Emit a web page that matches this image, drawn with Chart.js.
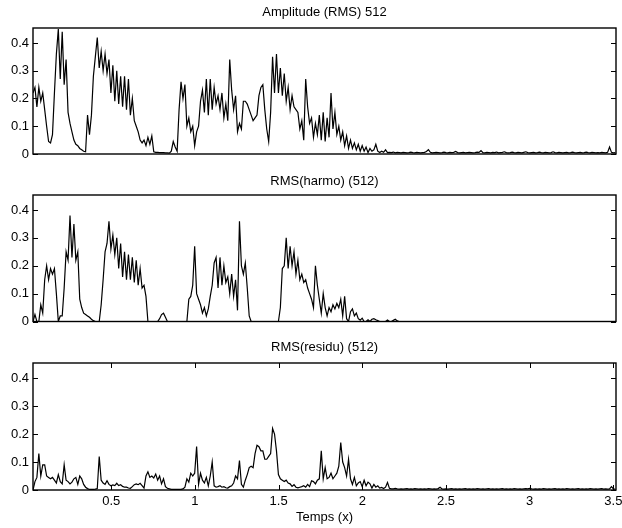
<!DOCTYPE html>
<html>
<head>
<meta charset="utf-8">
<script src="https://cdn.jsdelivr.net/npm/chart.js@4.4.1/dist/chart.umd.min.js"></script>
<style>
  body { margin: 0; background: #fff; }
  #wrap { position: relative; width: 622px; height: 528px; }
  canvas { position: absolute; left: 0; }
</style>
</head>
<body>
<div id="wrap">
  <canvas id="c1" width="622" height="167" style="top:0px"></canvas>
  <canvas id="c2" width="622" height="168" style="top:167px"></canvas>
  <canvas id="c3" width="622" height="193" style="top:335px"></canvas>
</div>
<script>
// frame grid (one RMS value per 512-sample frame)
const T0 = 0.032;
const STEP = 0.01164;
const X_MIN = 0.032;
const X_MAX = 3.516;
const Y_MAX = 0.454;
const xTicks = [0.5, 1, 1.5, 2, 2.5, 3, 3.5];
const yTicks = [0, 0.1, 0.2, 0.3, 0.4];

const rmsAmp = [
  0.22, 0.24, 0.17, 0.24, 0.19, 0.22, 0.16, 0.10, 0.045, 0.04,
  0.07, 0.22, 0.36, 0.45, 0.27, 0.44, 0.25, 0.34, 0.15, 0.11,
  0.08, 0.05, 0.035, 0.03, 0.02, 0.015, 0.01, 0.008, 0.14, 0.07,
  0.14, 0.28, 0.35, 0.42, 0.31, 0.37, 0.30, 0.36, 0.29, 0.34,
  0.22, 0.32, 0.19, 0.30, 0.18, 0.28, 0.17, 0.28, 0.16, 0.27,
  0.14, 0.20, 0.12, 0.10, 0.08, 0.05, 0.04, 0.05, 0.03, 0.06,
  0.035, 0.065, 0.008, 0.006, 0.006, 0.005, 0.005, 0.005, 0.004, 0.004,
  0.003, 0.01, 0.045, 0.025, 0.01, 0.16, 0.26, 0.20, 0.25, 0.10,
  0.13, 0.08, 0.10, 0.03, 0.08, 0.10, 0.19, 0.23, 0.15, 0.27,
  0.14, 0.27, 0.16, 0.24, 0.18, 0.21, 0.16, 0.22, 0.13, 0.18,
  0.12, 0.34, 0.23, 0.16, 0.21, 0.08, 0.11, 0.09, 0.19, 0.19,
  0.18, 0.16, 0.14, 0.12, 0.13, 0.14, 0.21, 0.24, 0.25, 0.16,
  0.09, 0.045, 0.15, 0.35, 0.22, 0.36, 0.22, 0.31, 0.21, 0.29,
  0.19, 0.24, 0.16, 0.21, 0.17, 0.16, 0.15, 0.09, 0.12, 0.05,
  0.27, 0.17, 0.11, 0.13, 0.06, 0.11, 0.07, 0.14, 0.05, 0.15,
  0.045, 0.13, 0.06, 0.22, 0.09, 0.15, 0.07, 0.10, 0.05, 0.08,
  0.03, 0.065, 0.02, 0.05, 0.02, 0.04, 0.015, 0.035, 0.01, 0.03,
  0.01, 0.025, 0.005, 0.02, 0.01, 0.015, 0.035, 0.01, 0.005, 0.01,
  0.006, 0.015, 0.005, 0.006, 0.005, 0.007, 0.004, 0.006, 0.005, 0.004,
  0.006, 0.005, 0.004, 0.005, 0.007, 0.005, 0.004, 0.006, 0.005, 0.004,
  0.005, 0.006, 0.009, 0.016, 0.006, 0.004, 0.005, 0.006, 0.005, 0.004,
  0.005, 0.007, 0.005, 0.004, 0.006, 0.005, 0.006, 0.009, 0.005, 0.004,
  0.005, 0.006, 0.004, 0.005, 0.006, 0.005, 0.004, 0.005, 0.007, 0.006,
  0.012, 0.005, 0.004, 0.006, 0.005, 0.004, 0.006, 0.005, 0.007, 0.004,
  0.005, 0.006, 0.008, 0.005, 0.004, 0.005, 0.007, 0.005, 0.004, 0.006,
  0.005, 0.004, 0.006, 0.008, 0.005, 0.004, 0.005, 0.006, 0.004, 0.005,
  0.007, 0.005, 0.004, 0.006, 0.005, 0.004, 0.005, 0.008, 0.005, 0.004,
  0.006, 0.005, 0.004, 0.005, 0.006, 0.004, 0.005, 0.007, 0.005, 0.004,
  0.005, 0.006, 0.004, 0.005, 0.007, 0.005, 0.004, 0.006, 0.005, 0.004,
  0.005, 0.004, 0.006, 0.005, 0.004, 0.006, 0.025, 0.006, 0.004, 0.005
];

const rmsHarmo = [
  0, 0.025, 0, 0, 0.06, 0.03, 0.15, 0.20, 0.15, 0.19,
  0.17, 0.19, 0.10, 0, 0.02, 0.02, 0.12, 0.25, 0.22, 0.38,
  0.23, 0.35, 0.22, 0.25, 0.08, 0.05, 0.03, 0.025, 0.02, 0.015,
  0.008, 0.003, 0, 0, 0, 0.06, 0.15, 0.25, 0.28, 0.36,
  0.26, 0.31, 0.24, 0.30, 0.19, 0.28, 0.16, 0.25, 0.15, 0.24,
  0.15, 0.23, 0.14, 0.22, 0.13, 0.19, 0.12, 0.13, 0.09, 0,
  0, 0, 0, 0, 0, 0.01, 0.025, 0.03, 0.015, 0,
  0, 0, 0, 0, 0, 0, 0, 0, 0, 0,
  0.08, 0.09, 0.13, 0.27, 0.10, 0.08, 0.06, 0.03, 0.05, 0.02,
  0.045, 0.09, 0.13, 0.21, 0.23, 0.12, 0.23, 0.13, 0.20, 0.14,
  0.16, 0.10, 0.17, 0.09, 0.15, 0.04, 0.36, 0.20, 0.17, 0.21,
  0.12, 0.02, 0, 0, 0, 0, 0, 0, 0, 0,
  0, 0, 0, 0, 0, 0, 0, 0.05, 0.19, 0.20,
  0.30, 0.19, 0.27, 0.20, 0.25, 0.17, 0.22, 0.15, 0.17, 0.14,
  0.15, 0.12, 0.10, 0.08, 0.05, 0.20, 0.13, 0.08, 0.03, 0.10,
  0.05, 0.02, 0.05, 0.035, 0.06, 0.045, 0.065, 0.05, 0.08, 0.02,
  0.09, 0.01, 0, 0.035, 0.045, 0.02, 0.03, 0.01, 0.005, 0.012,
  0, 0, 0.006, 0, 0.008, 0.01, 0.006, 0.003, 0, 0,
  0, 0, 0.005, 0, 0, 0.004, 0.008, 0.002, 0, 0,
  0, 0, 0, 0, 0, 0, 0, 0, 0, 0,
  0, 0, 0, 0, 0, 0, 0, 0, 0, 0,
  0, 0, 0, 0, 0, 0, 0, 0, 0, 0,
  0, 0, 0, 0, 0, 0, 0, 0, 0, 0,
  0, 0, 0, 0, 0, 0, 0, 0, 0, 0,
  0, 0, 0, 0, 0, 0, 0, 0, 0, 0,
  0, 0, 0, 0, 0, 0, 0, 0, 0, 0,
  0, 0, 0, 0, 0, 0, 0, 0, 0, 0,
  0, 0, 0, 0, 0, 0, 0, 0, 0, 0,
  0, 0, 0, 0, 0, 0, 0, 0, 0, 0,
  0, 0, 0, 0, 0, 0, 0, 0, 0, 0
];

const rmsResidu = [
  0, 0.03, 0.045, 0.13, 0.05, 0.09, 0.09, 0.05, 0.045, 0.04,
  0.045, 0.035, 0.025, 0.055, 0.03, 0.022, 0.09, 0.035, 0.03, 0.022,
  0.028, 0.04, 0.045, 0.02, 0.05, 0.04, 0.02, 0.01, 0.005, 0.002,
  0.002, 0.002, 0.003, 0.005, 0.12, 0.035, 0.025, 0.02, 0.033, 0.02,
  0.015, 0.018, 0.016, 0.024, 0.016, 0.019, 0.013, 0.01, 0.01, 0.007,
  0.006, 0.012, 0.019, 0.022, 0.019, 0.024, 0.016, 0.007, 0.05, 0.065,
  0.045, 0.05, 0.043, 0.057, 0.035, 0.05, 0.022, 0.04, 0.012, 0.006,
  0.004, 0.002, 0.002, 0.002, 0.002, 0.002, 0.002, 0.004, 0.01, 0.04,
  0.028, 0.06, 0.05, 0.06, 0.155, 0.02, 0.06, 0.035, 0.025, 0.045,
  0.015, 0.05, 0.10, 0.015, 0.01, 0.012, 0.015, 0.01, 0.012, 0.008,
  0.007, 0.012, 0.015, 0.025, 0.05, 0.04, 0.105, 0.02, 0.01, 0.035,
  0.055, 0.08, 0.085, 0.08, 0.13, 0.16, 0.155, 0.14, 0.14, 0.11,
  0.11, 0.12, 0.13, 0.22, 0.20, 0.14, 0.055, 0.04, 0.035, 0.03,
  0.035, 0.025, 0.022, 0.013, 0.019, 0.01, 0.008, 0.01, 0.012, 0.015,
  0.01, 0.02, 0.012, 0.033, 0.03, 0.022, 0.035, 0.04, 0.14, 0.04,
  0.08, 0.04, 0.045, 0.06, 0.04, 0.05, 0.06, 0.085, 0.17, 0.10,
  0.08, 0.05, 0.11, 0.04, 0.02, 0.045, 0.015, 0.025, 0.03, 0.012,
  0.035, 0.015, 0.028, 0.022, 0.007, 0.02, 0.01, 0.015, 0.007, 0.009,
  0.005, 0.01, 0.027, 0.006, 0.004, 0.004, 0.006, 0.004, 0.003, 0.004,
  0.003, 0.004, 0.005, 0.003, 0.004, 0.003, 0.005, 0.004, 0.003, 0.004,
  0.003, 0.004, 0.003, 0.005, 0.004, 0.003, 0.004, 0.003, 0.005, 0.01,
  0.004, 0.003, 0.004, 0.003, 0.004, 0.005, 0.003, 0.004, 0.003, 0.004,
  0.003, 0.004, 0.005, 0.003, 0.004, 0.003, 0.004, 0.003, 0.005, 0.004,
  0.003, 0.004, 0.003, 0.004, 0.005, 0.003, 0.004, 0.003, 0.004, 0.003,
  0.004, 0.005, 0.003, 0.004, 0.003, 0.004, 0.003, 0.005, 0.004, 0.003,
  0.004, 0.003, 0.004, 0.005, 0.004, 0.006, 0.004, 0.003, 0.004, 0.003,
  0.004, 0.003, 0.005, 0.004, 0.003, 0.004, 0.003, 0.004, 0.005, 0.003,
  0.004, 0.003, 0.004, 0.003, 0.005, 0.004, 0.003, 0.004, 0.003, 0.004,
  0.005, 0.003, 0.004, 0.003, 0.004, 0.003, 0.005, 0.004, 0.003, 0.004,
  0.003, 0.004, 0.005, 0.003, 0.004, 0.003, 0.004, 0.012, 0.004, 0.003
];

const FONT = { family: "'Liberation Sans', Arial, sans-serif", size: 13, weight: 'normal' };

// matlab-like box with inward ticks
const boxTicks = {
  id: 'boxTicks',
  afterDraw(chart, args, opts) {
    const { ctx, chartArea: a, scales } = chart;
    const L = 5;
    ctx.save();
    ctx.strokeStyle = '#000';
    ctx.lineWidth = 1;
    ctx.beginPath();
    yTicks.forEach(v => {
      const y = Math.round(scales.y.getPixelForValue(v)) + 0.5;
      ctx.moveTo(a.left, y); ctx.lineTo(a.left + L, y);
      ctx.moveTo(a.right, y); ctx.lineTo(a.right - L, y);
    });
    if (opts.xTicks) {
      xTicks.forEach(v => {
        const x = Math.round(scales.x.getPixelForValue(v)) + 0.5;
        ctx.moveTo(x, a.top); ctx.lineTo(x, a.top + L);
        ctx.moveTo(x, a.bottom); ctx.lineTo(x, a.bottom - L);
      });
    }
    ctx.stroke();
    ctx.lineWidth = 1.4;
    ctx.strokeRect(a.left, a.top, a.right - a.left, a.bottom - a.top);
    ctx.restore();
  }
};

function makeChart(id, title, values, o) {
  new Chart(document.getElementById(id), {
    type: 'line',
    data: {
      datasets: [{
        data: values.map((v, i) => ({ x: T0 + i * STEP, y: v })),
        borderColor: '#000',
        borderWidth: 1.2,
        pointRadius: 0,
        tension: 0
      }]
    },
    options: {
      responsive: false,
      animation: false,
      events: [],
      layout: { padding: { left: 0, right: 6, top: 0, bottom: o.padBottom } },
      plugins: {
        legend: { display: false },
        tooltip: { enabled: false },
        title: {
          display: true, text: title, fullSize: false, color: '#000', font: FONT,
          padding: { top: o.titleTop, bottom: 12.4 - o.titleTop }
        },
        boxTicks: { xTicks: o.xTicks }
      },
      scales: {
        x: {
          type: 'linear', min: X_MIN, max: X_MAX,
          display: o.xTicks,
          grid: { display: false, drawTicks: false },
          border: { display: false },
          afterBuildTicks: s => { s.ticks = xTicks.map(v => ({ value: v })); },
          afterFit: s => {
            s.height = o.xTicks ? 38 : 0;
            s.paddingLeft = 0;
            s.paddingRight = 0;
          },
          ticks: { padding: 4, color: '#000', font: FONT, maxRotation: 0, autoSkip: false, callback: v => String(v) },
          title: { display: o.xTicks, text: 'Temps (x)', color: '#000', font: FONT, padding: { top: 0, bottom: 3 } }
        },
        y: {
          min: 0, max: Y_MAX,
          grid: { display: false, drawTicks: false },
          border: { display: false },
          afterBuildTicks: s => { s.ticks = yTicks.map(v => ({ value: v })); },
          afterFit: s => { s.width = 33; },
          ticks: { padding: 4, color: '#000', font: FONT, callback: v => String(v) }
        }
      }
    },
    plugins: [boxTicks]
  });
}

makeChart('c1', 'Amplitude (RMS) 512', rmsAmp, { padBottom: 13, titleTop: 4.7, xTicks: false });
makeChart('c2', 'RMS(harmo) (512)', rmsHarmo, { padBottom: 13.5, titleTop: 6.2, xTicks: false });
makeChart('c3', 'RMS(residu) (512)', rmsResidu, { padBottom: 0, titleTop: 4.2, xTicks: true });
</script>
</body>
</html>
